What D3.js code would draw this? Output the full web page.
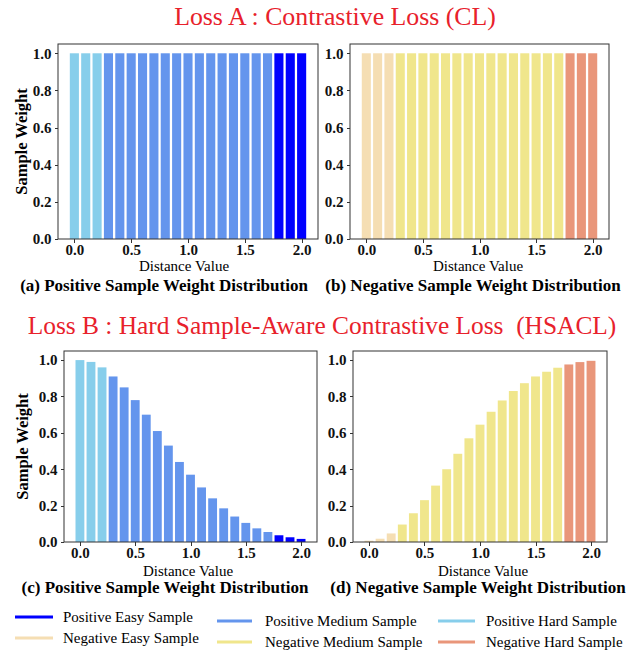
<!DOCTYPE html>
<meta charset="utf-8">
<style>
body { margin: 0; background: #fff; }
svg { font-family: "Liberation Serif", "Times New Roman", serif; }
.axis path, .axis line { stroke: #333; stroke-width: 1; shape-rendering: crispEdges; }
.axis text { font-size: 15px; font-weight: bold; fill: #111; font-family: "Liberation Serif", serif; }
</style>
<script src="https://d3js.org/d3.v7.min.js"></script>
<body>
<div id="chart"></div>
<script>
// distance values of the 21 bars
var distances = [0.0, 0.1, 0.2, 0.3, 0.4, 0.5, 0.6, 0.7, 0.8, 0.9, 1.0,
                 1.1, 1.2, 1.3, 1.4, 1.5, 1.6, 1.7, 1.8, 1.9, 2.0];
// Loss A : every sample has weight 1
var clPositive = [1, 1, 1, 1, 1, 1, 1, 1, 1, 1, 1, 1, 1, 1, 1, 1, 1, 1, 1, 1, 1];
var clNegative = [1, 1, 1, 1, 1, 1, 1, 1, 1, 1, 1, 1, 1, 1, 1, 1, 1, 1, 1, 1, 1];
// Loss B
var hsaclPositive = [1.0, 0.99, 0.96, 0.91, 0.85, 0.78, 0.70, 0.61, 0.53, 0.44, 0.37,
                     0.30, 0.24, 0.185, 0.14, 0.105, 0.075, 0.055, 0.037, 0.026, 0.017];
var hsaclNegative = [0.007, 0.018, 0.047, 0.096, 0.158, 0.23, 0.31, 0.40, 0.485, 0.57, 0.645,
                     0.716, 0.778, 0.83, 0.873, 0.91, 0.936, 0.958, 0.976, 0.989, 0.996];
// group of each bar: 0 first three, 1 middle, 2 last three
var barGroup = distances.map(function(d, i) { return i < 3 ? 0 : (i < 18 ? 1 : 2); });

var positiveColors = ["#87ceeb", "#6495ed", "#0000ff"];
var negativeColors = ["#f5deb3", "#f0e68c", "#e9967a"];

var xTicks = [0, 0.5, 1.0, 1.5, 2.0];
var yTicks = [0, 0.2, 0.4, 0.6, 0.8, 1.0];

var legendLabels = [
  ["Positive Easy Sample", "Positive Medium Sample", "Positive Hard Sample"],
  ["Negative Easy Sample", "Negative Medium Sample", "Negative Hard Sample"]
];
var legendColors = [
  ["#0000ff", "#6495ed", "#87ceeb"],
  ["#f5deb3", "#f0e68c", "#e9967a"]
];

var svg = d3.select("#chart").append("svg")
  .attr("width", 639).attr("height", 653);

// main titles
svg.append("text")
  .attr("x", 335).attr("y", 25)
  .attr("text-anchor", "middle")
  .style("font-size", "25.8px").style("fill", "#e8212b")
  .text("Loss A : Contrastive Loss (CL)");

svg.append("text")
  .attr("x", 322).attr("y", 334)
  .attr("text-anchor", "middle")
  .style("font-size", "25.4px").style("fill", "#e8212b")
  .attr("xml:space", "preserve")
  .style("white-space", "pre")
  .text("Loss B : Hard Sample-Aware Contrastive Loss  (HSACL)");

function drawPanel(p) {
  var x = d3.scaleLinear().domain([-0.144, 2.144]).range([p.left, p.right]);
  var y = d3.scaleLinear().domain([0, 1.05]).range([p.bottom, p.top]);
  var g = svg.append("g");

  g.selectAll("rect.bar")
    .data(p.values)
    .enter().append("rect")
      .attr("class", "bar")
      .attr("x", function(d, i) { return x(distances[i] - 0.04); })
      .attr("width", function(d, i) { return x(distances[i] + 0.04) - x(distances[i] - 0.04); })
      .attr("y", function(d) { return y(d); })
      .attr("height", function(d) { return y(0) - y(d); })
      .attr("fill", function(d, i) { return p.colors[barGroup[i]]; });

  // frame
  g.append("rect")
    .attr("x", p.left).attr("y", p.top)
    .attr("width", p.right - p.left).attr("height", p.bottom - p.top)
    .attr("fill", "none").attr("stroke", "#333").attr("stroke-width", 1);

  g.append("g")
    .attr("class", "axis")
    .attr("transform", "translate(0," + p.bottom + ")")
    .call(d3.axisBottom(x).tickValues(xTicks).tickFormat(d3.format(".1f"))
      .tickSizeOuter(0).tickSize(3.5).tickPadding(2))
    .call(function(a) { a.select(".domain").remove(); });

  g.append("g")
    .attr("class", "axis")
    .attr("transform", "translate(" + p.left + ",0)")
    .call(d3.axisLeft(y).tickValues(yTicks).tickFormat(d3.format(".1f")).tickSizeOuter(0).tickSize(3.5))
    .call(function(a) { a.select(".domain").remove(); });

  if (p.ylabel) {
    g.append("text")
      .attr("transform", "translate(" + p.ylabelX + "," + ((p.top + p.bottom) / 2) + ") rotate(-90)")
      .attr("text-anchor", "middle")
      .attr("dy", "0.35em")
      .style("font-size", "16.5px").style("font-weight", "bold")
      .text("Sample Weight");
  }

  g.append("text")
    .attr("x", p.xlabelX).attr("y", p.xlabelY)
    .attr("text-anchor", "middle")
    .style("font-size", "15px")
    .text("Distance Value");

  g.append("text")
    .attr("x", p.subX).attr("y", p.subY)
    .attr("text-anchor", "middle")
    .style("font-size", "17px").style("font-weight", "bold")
    .text(p.subtitle);
}

drawPanel({left: 58, right: 318, top: 44, bottom: 239, values: clPositive, colors: positiveColors,
  ylabel: true, ylabelX: 21, xlabelX: 184, xlabelY: 271, subX: 164, subY: 291,
  subtitle: "(a) Positive Sample Weight Distribution"});
drawPanel({left: 350, right: 609, top: 44, bottom: 239, values: clNegative, colors: negativeColors,
  ylabel: false, xlabelX: 478, xlabelY: 271, subX: 473, subY: 291,
  subtitle: "(b) Negative Sample Weight Distribution"});
drawPanel({left: 64, right: 317, top: 351, bottom: 542, values: hsaclPositive, colors: positiveColors,
  ylabel: true, ylabelX: 22, xlabelX: 188, xlabelY: 576, subX: 165, subY: 593,
  subtitle: "(c) Positive Sample Weight Distribution"});
drawPanel({left: 353, right: 607, top: 351, bottom: 542, values: hsaclNegative, colors: negativeColors,
  ylabel: false, xlabelX: 483, xlabelY: 576, subX: 478, subY: 593,
  subtitle: "(d) Negative Sample Weight Distribution"});

// legend
var legendCols = [{x1: 15, x2: 53, tx: 63, dy: 0}, {x1: 217, x2: 252, tx: 265, dy: 4}, {x1: 438, x2: 475, tx: 486, dy: 4}];
var legendRows = [617, 638];
legendRows.forEach(function(ry, r) {
  legendCols.forEach(function(c, k) {
    svg.append("line")
      .attr("x1", c.x1).attr("x2", c.x2)
      .attr("y1", ry + c.dy).attr("y2", ry + c.dy)
      .attr("stroke", legendColors[r][k]).attr("stroke-width", 3);
    svg.append("text")
      .attr("x", c.tx).attr("y", ry + c.dy + 5)
      .style("font-size", "15px")
      .text(legendLabels[r][k]);
  });
});
</script>
</body>
